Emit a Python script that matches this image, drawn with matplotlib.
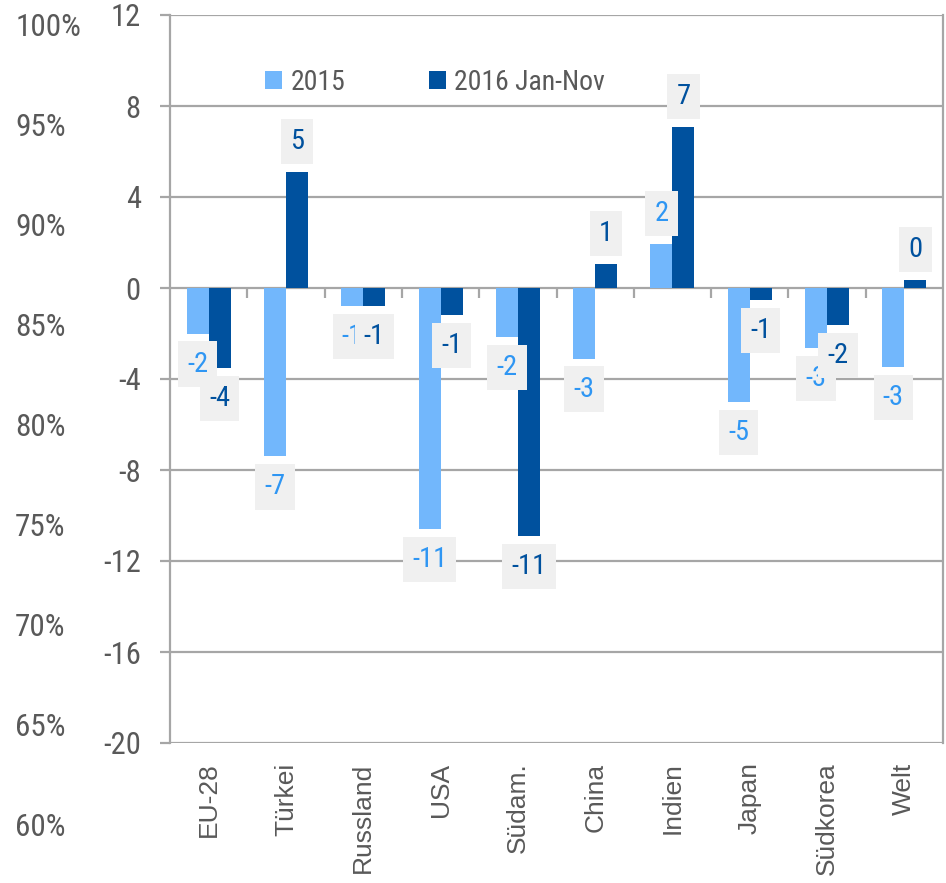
import matplotlib.pyplot as plt
import numpy as np

categories = ['EU-28', 'Türkei', 'Russland', 'USA', 'Südam.', 'China',
              'Indien', 'Japan', 'Südkorea', 'Welt']
v2015 = [-2.0, -7.4, -0.8, -10.6, -2.15, -3.1, 1.93, -5.0, -2.64, -3.47]
v2016 = [-3.5, 5.1, -0.8, -1.2, -10.9, 1.05, 7.08, -0.53, -1.63, 0.35]
series_names = ['2015', '2016 Jan-Nov']
yticks = [12, 8, 4, 0, -4, -8, -12, -16, -20]
pct_ticks = [100, 95, 90, 85, 80, 75, 70, 65, 60]

light = '#72b7fc'
dark = '#00519e'
light_txt = '#2f96f3'
grey = '#595959'
line = '#a6a6a6'
narrow = ['Roboto Condensed', 'DejaVu Sans']

fig = plt.figure(figsize=(9.46, 8.83), dpi=100)
ax = fig.add_axes([170/946, 1-743/883, 773/946, 728/883])

x = np.arange(len(categories))
w = 0.285
b1 = ax.bar(x - w/2, v2015, w, color=light, label=series_names[0], zorder=3)
b2 = ax.bar(x + w/2, v2016, w, color=dark, label=series_names[1], zorder=3)

# data labels in grey boxes
for bars, vals, col in [(b1, v2015, light_txt), (b2, v2016, dark)]:
    for r, v in zip(bars, vals):
        off = 22 if v >= 0 else -22
        ax.annotate(f'{round(v):d}', (r.get_x() + r.get_width()/2, v),
                    xytext=(0, off), textcoords='offset points',
                    ha='center', va='center', fontsize=20.5, color=col,
                    family=narrow, zorder=5,
                    bbox=dict(boxstyle='square,pad=0.32', fc='#f0f0f0', ec='none'))

ax.set_xlim(-0.5, len(categories) - 0.5)
ax.set_ylim(-20, 12)
ax.set_yticks(yticks)
ax.set_yticklabels([str(t) for t in yticks], family=narrow, fontsize=22, color=grey)
ax.yaxis.grid(True, color=line, lw=1.6, zorder=0)
ax.tick_params(axis='y', length=7, width=1.6, color=line, pad=14)
ax.set_xticks(x)
ax.set_xticklabels(categories, rotation=90, fontsize=19, color=grey,
                   family=['Liberation Sans', 'DejaVu Sans'])
ax.tick_params(axis='x', length=0, pad=14)
for s in ['top', 'bottom']:
    ax.spines[s].set_visible(False)
for s in ['left', 'right']:
    ax.spines[s].set_color(line)
    ax.spines[s].set_linewidth(1.6)

# category separators on the zero line
sec = ax.secondary_xaxis(20/32)
sec.set_xticks(np.arange(0.5, len(categories) - 0.5, 1.0))
sec.xaxis.set_ticklabels([])
sec.xaxis.set_ticks_position('bottom')
sec.tick_params(axis='x', direction='out', length=7, width=1.6, color=line)
sec.spines['bottom'].set_visible(False)
sec.spines['top'].set_visible(False)

leg = ax.legend(loc='center left', bbox_to_anchor=(265/946, 1-82/883),
                bbox_transform=fig.transFigure, ncol=2, frameon=False,
                prop={'family': narrow, 'size': 20}, handlelength=0.62,
                handleheight=0.62, handletextpad=0.3, columnspacing=3.0,
                borderpad=0, borderaxespad=0)
for t in leg.get_texts():
    t.set_color(grey)

# percent scale on the far left
ax2 = fig.add_axes([15/946, 1-825/883, 0.0001, 800/883])
ax2.set_ylim(60, 100)
ax2.set_yticks(pct_ticks)
ax2.set_yticklabels([f'{p}%' for p in pct_ticks], family=narrow, fontsize=22.5, color=grey)
ax2.yaxis.tick_right()
ax2.tick_params(axis='y', length=0, pad=0)
for lbl in ax2.get_yticklabels():
    lbl.set_ha('left')
ax2.set_xticks([])
for s in ax2.spines.values():
    s.set_visible(False)
ax2.patch.set_visible(False)

fig.savefig('out.png', dpi=100)
